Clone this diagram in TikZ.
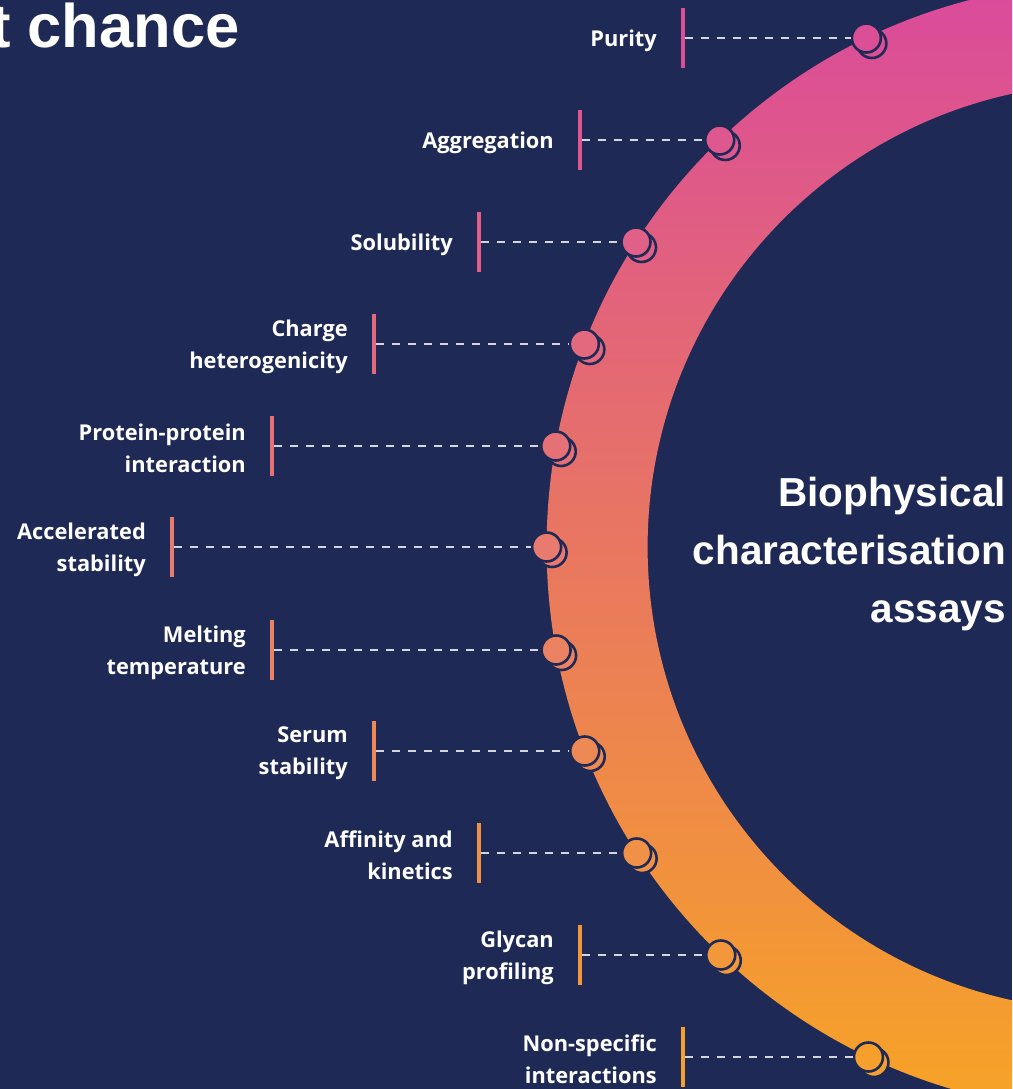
\documentclass[tikz,border=0pt]{standalone}
\usepackage{fontspec}
\setmainfont{Open Sans}
\newfontfamily\headfont{Liberation Sans}
\definecolor{bg}{HTML}{1E2A55}
\definecolor{ctop}{HTML}{DA4A9C}
\definecolor{cmid}{HTML}{E87A6F}
\definecolor{cbot}{HTML}{F7A425}
\definecolor{dashc}{HTML}{D4D6DE}
\tikzset{
  barbox/.style={rectangle, minimum width=4.5, minimum height=60, inner sep=0, draw=none},
  lbl/.style={text=white, align=right, inner sep=0, font=\bfseries\fontsize{21.8}{32}\selectfont},
  dotnode/.style={circle, minimum size=29, inner sep=0, draw=bg, line width=2.6},
  dashline/.style={draw=dashc, line width=2.5, dash pattern=on 7.5pt off 8.5pt},
}
\newcommand\assay[5]{%
  \pgfmathsetmacro\dotx{1111.6-565*sqrt(1-((#2-547)/565)^2)}%
  \colorlet{cc}{#4}%
  \node[barbox, fill=cc] (b#1) at (#3,#2) {};
  \node[lbl, anchor=east] (t#1) at (#3-26,#2+2.5) {#5};
  \node[dotnode, fill=cc] (s#1) at (\dotx+5.5,#2+5.5) {};
  \node[dotnode, fill=cc] (d#1) at (\dotx,#2) {};
  \draw[dashline] (b#1.east) -- (d#1.west);
}
\begin{document}
\begin{tikzpicture}[x=1pt,y=-1pt]
\useasboundingbox (0,0) rectangle (1012,1089);
\clip (0,0) rectangle (1012,1089);
\fill[bg] (0,0) rectangle (1012,1089);
\coordinate (c) at (1111.6,547);
\shade[top color=ctop, middle color=cmid, bottom color=cbot, even odd rule] (c) circle (565) (c) circle (464);

\assay{purity}{38}{683}{cmid!10!ctop}{Purity}
\assay{aggr}{140}{580}{cmid!28!ctop}{Aggregation}
\assay{solu}{242}{479}{cmid!46!ctop}{Solubility}
\assay{charge}{344}{374}{cmid!64!ctop}{Charge\\heterogenicity}
\assay{ppi}{446}{272}{cmid!82!ctop}{Protein-protein\\interaction}
\assay{accel}{547}{172}{cmid}{Accelerated\\stability}
\assay{melt}{650}{272}{cbot!18!cmid}{Melting\\temperature}
\assay{serum}{751}{374}{cbot!36!cmid}{Serum\\stability}
\assay{affin}{853}{479}{cbot!54!cmid}{Affinity and\\kinetics}
\assay{glycan}{955}{580}{cbot!72!cmid}{Glycan\\profiling}
\assay{nonspec}{1057}{683}{cbot!90!cmid}{Non-specific\\interactions}

\node[anchor=base east, text=white, inner sep=0, font=\headfont\bfseries\fontsize{61.5}{70}\selectfont] (title) at (240,48) {t chance};
\node[anchor=north east, align=right, text=white, inner sep=0, font=\headfont\bfseries\fontsize{40.5}{58}\selectfont] (center) at (1006,477) {Biophysical\\characterisation\\assays};
\end{tikzpicture}
\end{document}
